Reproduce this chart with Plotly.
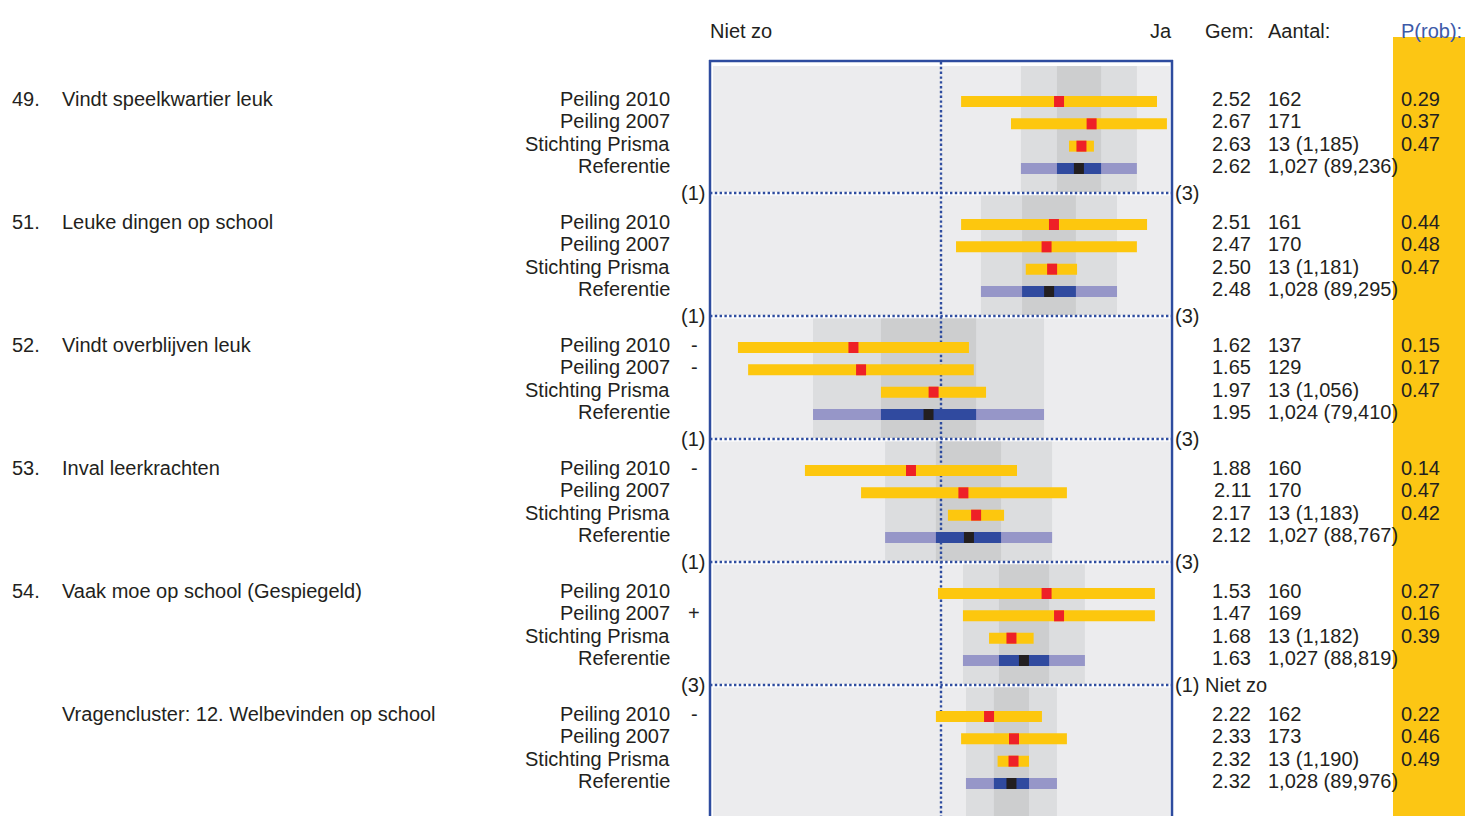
import plotly.graph_objects as go

W, H = 1465, 816

# ---------------- data ----------------
item_nums = ["49.", "51.", "52.", "53.", "54.", ""]
item_names = ["Vindt speelkwartier leuk", "Leuke dingen op school", "Vindt overblijven leuk",
              "Inval leerkrachten", "Vaak moe op school (Gespiegeld)",
              "Vragencluster: 12. Welbevinden op school"]
series_names = ["Peiling 2010", "Peiling 2007", "Stichting Prisma", "Referentie"]

# significance signs (row 0 = Peiling 2010, row 1 = Peiling 2007)
sign_2010 = ["", "", "-", "-", "", "-"]
sign_2007 = ["", "", "-", "", "+", ""]

# plotted interval estimates (scale 1..3)
p2010_low = [2.087, 2.087, 1.121, 1.411, 1.987, 1.978]
p2010_high = [2.935, 2.892, 2.121, 2.329, 2.926, 2.437]
p2010_mid = [2.511, 2.489, 1.621, 1.870, 2.457, 2.208]

p2007_low = [2.303, 2.065, 1.165, 1.654, 2.095, 2.087]
p2007_high = [2.978, 2.848, 2.142, 2.545, 2.926, 2.545]
p2007_mid = [2.652, 2.457, 1.654, 2.097, 2.511, 2.316]

prisma_low = [2.554, 2.367, 1.740, 2.030, 2.208, 2.245]
prisma_high = [2.662, 2.589, 2.195, 2.273, 2.401, 2.381]
prisma_mid = [2.608, 2.481, 1.968, 2.152, 2.305, 2.314]

ref_p10 = [2.346, 2.173, 1.446, 1.758, 2.095, 2.108]
ref_p25 = [2.502, 2.351, 1.740, 1.978, 2.251, 2.229]
ref_p75 = [2.693, 2.584, 2.152, 2.260, 2.468, 2.381]
ref_p90 = [2.848, 2.762, 2.446, 2.481, 2.623, 2.502]
ref_mid = [2.597, 2.468, 1.946, 2.121, 2.359, 2.305]

# table columns
gem = [["2.52", "2.67", "2.63", "2.62"],
       ["2.51", "2.47", "2.50", "2.48"],
       ["1.62", "1.65", "1.97", "1.95"],
       ["1.88", "2.11", "2.17", "2.12"],
       ["1.53", "1.47", "1.68", "1.63"],
       ["2.22", "2.33", "2.32", "2.32"]]
aantal = [["162", "171", "13 (1,185)", "1,027 (89,236)"],
          ["161", "170", "13 (1,181)", "1,028 (89,295)"],
          ["137", "129", "13 (1,056)", "1,024 (79,410)"],
          ["160", "170", "13 (1,183)", "1,027 (88,767)"],
          ["160", "169", "13 (1,182)", "1,027 (88,819)"],
          ["162", "173", "13 (1,190)", "1,028 (89,976)"]]
prob = [["0.29", "0.37", "0.47"],
        ["0.44", "0.48", "0.47"],
        ["0.15", "0.17", "0.47"],
        ["0.14", "0.47", "0.42"],
        ["0.27", "0.16", "0.39"],
        ["0.22", "0.46", "0.49"]]

div_left = ["(1)", "(1)", "(1)", "(1)", "(3)"]
div_right = ["(3)", "(3)", "(3)", "(3)", "(1) Niet zo"]

# ---------------- style / layout constants ----------------
FONT = "Liberation Sans, Arial, sans-serif"
FS = 20
TXT = "#231F20"
YELLOW = "#FDC70E"
RED = "#EE2027"
BLACK = "#231F20"
LAV = "#9696C8"
DBLUE = "#304A9F"
BG = "#ECECEE"
BAND1 = "#DCDDDF"
BAND2 = "#CDCECF"
BORDER = "#2E4C9F"
PROBBLUE = "#3D5AA8"
DOT = dict(color=BORDER, width=2.4, dash="2.4px,2.4px")

ROW_PX = 22.33
GROUP = 123.0 / ROW_PX        # group spacing in row units
DIV_OFF = 91.5 / ROW_PX       # divider offset from first row
BAR_H = 11.0 / ROW_PX
SQ = 10.0 / 231.0             # marker square width in scale units
Y0_PX = 101.5
y_top = -Y0_PX / ROW_PX
y_bot = (H - Y0_PX) / ROW_PX
BOX_L, BOX_R = 710, 1172


def yv(px):  # y data value from pixel
    return (px - Y0_PX) / ROW_PX


def py(px):  # paper y from pixel
    return 1 - px / H


def pxx(px):  # paper x from pixel
    return px / W


n = len(item_nums)
gy = [g * GROUP for g in range(n)]

fig = go.Figure()
shapes = []
ann = []

# backgrounds & bands
for g in range(n):
    top = yv(66) if g == 0 else gy[g] - GROUP + DIV_OFF + 2.5 / ROW_PX
    bot = gy[g] + DIV_OFF - 1.0 / ROW_PX if g < n - 1 else y_bot + 1
    shapes.append(dict(type="rect", xref="x", yref="y", x0=1.013, x1=2.991, y0=top, y1=bot,
                       fillcolor=BG, line=dict(width=0), layer="below"))
    shapes.append(dict(type="rect", xref="x", yref="y", x0=ref_p10[g], x1=ref_p90[g], y0=top, y1=bot,
                       fillcolor=BAND1, line=dict(width=0), layer="below"))
    shapes.append(dict(type="rect", xref="x", yref="y", x0=ref_p25[g], x1=ref_p75[g], y0=top, y1=bot,
                       fillcolor=BAND2, line=dict(width=0), layer="below"))

# center dotted line
shapes.append(dict(type="line", xref="x", yref="y", x0=2, x1=2, y0=yv(62), y1=y_bot + 1,
                   line=DOT, layer="below"))

# P(rob) column
shapes.append(dict(type="rect", xref="paper", yref="paper", x0=pxx(1393), x1=1.0, y0=0, y1=py(37),
                   fillcolor="#FCC614", line=dict(width=0), layer="below"))

# dividers
for g in range(n - 1):
    yd = gy[g] + DIV_OFF
    shapes.append(dict(type="line", xref="x", yref="y", x0=1, x1=3, y0=yd, y1=yd,
                       line=DOT, layer="below"))
    ann.append(dict(x=pxx(707), y=yd, xref="paper", yref="y", text=div_left[g], showarrow=False,
                    xanchor="right", yanchor="middle"))
    ann.append(dict(x=pxx(1173), y=yd, xref="paper", yref="y", text=div_right[g], showarrow=False,
                    xanchor="left", yanchor="middle"))

# box (paper-referenced so the edges are not clipped by the plot area)
shapes.append(dict(type="line", xref="paper", yref="paper", x0=pxx(BOX_L - 1), x1=pxx(BOX_R + 1),
                   y0=py(61), y1=py(61), line=dict(color=BORDER, width=2.5)))
for xp in (BOX_L, BOX_R):
    shapes.append(dict(type="line", xref="paper", yref="paper", x0=pxx(xp), x1=pxx(xp), y0=py(60), y1=0,
                       line=dict(color=BORDER, width=2.5)))


def add_bars(ys, lo, hi, color):
    fig.add_trace(go.Bar(orientation="h", y=ys, base=lo, x=[h - l for l, h in zip(lo, hi)],
                         width=BAR_H, marker=dict(color=color, line=dict(width=0)),
                         hoverinfo="skip", showlegend=False))


def add_square(ys, mid, color):
    fig.add_trace(go.Bar(orientation="h", y=ys, base=[m - SQ / 2 for m in mid], x=[SQ] * len(mid),
                         width=BAR_H, marker=dict(color=color, line=dict(width=0)),
                         hoverinfo="skip", showlegend=False))


for r, (lo, hi, mid) in enumerate([(p2010_low, p2010_high, p2010_mid),
                                    (p2007_low, p2007_high, p2007_mid),
                                    (prisma_low, prisma_high, prisma_mid)]):
    ys = [gy[g] + r for g in range(n)]
    add_bars(ys, lo, hi, YELLOW)
    add_square(ys, mid, RED)

ys_ref = [gy[g] + 3 for g in range(n)]
add_bars(ys_ref, ref_p10, ref_p90, LAV)
add_bars(ys_ref, ref_p25, ref_p75, DBLUE)
add_square(ys_ref, ref_mid, BLACK)

# texts
TY = -2.5 / ROW_PX   # text sits slightly above bar centre
for g in range(n):
    y0 = gy[g] + TY
    if item_nums[g]:
        ann.append(dict(x=pxx(10), y=y0, xref="paper", yref="y", text=item_nums[g], showarrow=False,
                        xanchor="left", yanchor="middle"))
    ann.append(dict(x=pxx(60), y=y0, xref="paper", yref="y", text=item_names[g], showarrow=False,
                    xanchor="left", yanchor="middle"))
    for r in range(4):
        yr = y0 + r
        ann.append(dict(x=pxx(672), y=yr, xref="paper", yref="y", text=series_names[r], showarrow=False,
                        xanchor="right", yanchor="middle"))
        ann.append(dict(x=pxx(1253), y=yr, xref="paper", yref="y", text=gem[g][r], showarrow=False,
                        xanchor="right", yanchor="middle"))
        ann.append(dict(x=pxx(1266), y=yr, xref="paper", yref="y", text=aantal[g][r], showarrow=False,
                        xanchor="left", yanchor="middle"))
        if r < 3:
            ann.append(dict(x=pxx(1399), y=yr, xref="paper", yref="y", text=prob[g][r], showarrow=False,
                            xanchor="left", yanchor="middle"))
    for r, s in enumerate([sign_2010[g], sign_2007[g]]):
        if s:
            ann.append(dict(x=pxx(694), y=y0 + r, xref="paper", yref="y", text=s, showarrow=False,
                            xanchor="center", yanchor="middle"))

# header
hy = py(31)
ann.append(dict(x=pxx(708), y=hy, xref="paper", yref="paper", text="Niet zo", showarrow=False,
                xanchor="left", yanchor="middle"))
ann.append(dict(x=pxx(1174), y=hy, xref="paper", yref="paper", text="Ja", showarrow=False,
                xanchor="right", yanchor="middle"))
ann.append(dict(x=pxx(1203), y=hy, xref="paper", yref="paper", text="Gem:", showarrow=False,
                xanchor="left", yanchor="middle"))
ann.append(dict(x=pxx(1266), y=hy, xref="paper", yref="paper", text="Aantal:", showarrow=False,
                xanchor="left", yanchor="middle"))
ann.append(dict(x=pxx(1399), y=hy, xref="paper", yref="paper", text="P(rob):", showarrow=False,
                xanchor="left", yanchor="middle", font=dict(color=PROBBLUE)))

fig.update_layout(
    width=W, height=H, margin=dict(l=0, r=0, t=0, b=0),
    paper_bgcolor="white", plot_bgcolor="rgba(0,0,0,0)",
    font=dict(family=FONT, size=FS, color=TXT),
    barmode="overlay", showlegend=False,
    xaxis=dict(domain=[pxx(BOX_L), pxx(BOX_R)], range=[1, 3], visible=False, fixedrange=True),
    yaxis=dict(domain=[0, 1], range=[y_bot, y_top], visible=False, fixedrange=True),
    shapes=shapes, annotations=ann,
)

fig.write_html("out.html", config={"displayModeBar": False},
               post_script="document.body.style.margin='0';document.body.style.overflow='hidden';")
